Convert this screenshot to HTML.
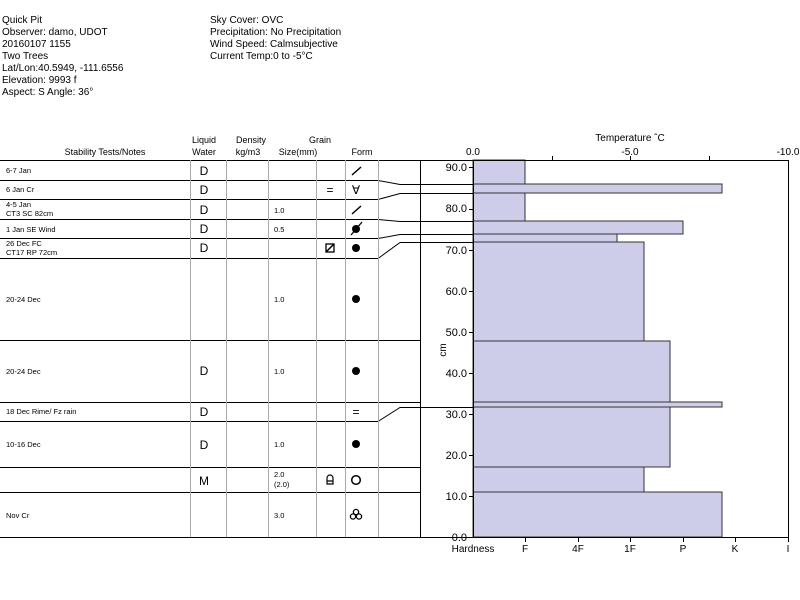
<!DOCTYPE html><html><head><style>body{margin:0;background:#fff}svg{display:block}text{font-family:"Liberation Sans",sans-serif;fill:#000}</style></head><body>
<svg width="800" height="600" xmlns="http://www.w3.org/2000/svg">
<g font-size="10">
<text x="2" y="23">Quick Pit</text><text x="2" y="35">Observer: damo, UDOT</text><text x="2" y="47">20160107 1155</text><text x="2" y="59">Two Trees</text><text x="2" y="71">Lat/Lon:40.5949, -111.6556</text><text x="2" y="83">Elevation: 9993 f</text><text x="2" y="95">Aspect: S Angle: 36°</text>
<text x="210" y="23">Sky Cover: OVC</text><text x="210" y="35">Precipitation: No Precipitation</text><text x="210" y="47">Wind Speed: Calmsubjective</text><text x="210" y="59">Current Temp:0 to -5°C</text>
</g>
<g font-size="9" text-anchor="middle">
<text x="105" y="155">Stability Tests/Notes</text>
<text x="204" y="143">Liquid</text><text x="204" y="155">Water</text>
<text x="251" y="143">Density</text><text x="248" y="155">kg/m3</text>
<text x="320" y="143">Grain</text><text x="298" y="155">Size(mm)</text>
<text x="362" y="155">Form</text>
<text x="630" y="141" font-size="10">Temperature ˆC</text>
<text x="473" y="155" font-size="10">0.0</text><text x="630" y="155" font-size="10">-5.0</text><text x="788" y="155" font-size="10">-10.0</text>
</g>
<g fill="#cdcdea" stroke="#333" stroke-width="1">
<rect x="473" y="160" width="52" height="24"/>
<rect x="473" y="184" width="249" height="9"/>
<rect x="473" y="193" width="52" height="28"/>
<rect x="473" y="221" width="210" height="13"/>
<rect x="473" y="234" width="144" height="8"/>
<rect x="473" y="242" width="171" height="99"/>
<rect x="473" y="341" width="197" height="61"/>
<rect x="473" y="402" width="249" height="5"/>
<rect x="473" y="407" width="197" height="60"/>
<rect x="473" y="467" width="171" height="25"/>
<rect x="473" y="492" width="249" height="45"/>
</g>
<g stroke="#000" stroke-width="1" fill="none">
<path d="M0 160.5H788M0 537.5H788M473.5 160V537M788.5 160V537M420.5 160V537"/>
<path d="M0 180.5H378L400 184.5H473M0 199.5H378L400 193.5H473M0 219.5H378L400 221.5H473M0 238.5H378L400 234.5H473M0 258.5H378L400 242.5H473M0 340.5H420M0 402.5H420M0 421.5H378L400 407.5H473M0 467.5H420M0 492.5H420"/>
<path d="M469 167.5H473M469 209.5H473M469 250.5H473M469 291.5H473M469 332.5H473M469 373.5H473M469 414.5H473M469 455.5H473M469 496.5H473M469 537.5H473" />
<path d="M525.5 537V542M578.5 537V542M630.5 537V542M683.5 537V542M735.5 537V542M788.5 537V542M552.5 160V156M630.5 160V156M709.5 160V156"/>
</g>
<g stroke="#aaa" stroke-width="1"><path d="M190.5 160V537M226.5 160V537M268.5 160V537M316.5 160V537M345.5 160V537M378.5 160V537"/></g>
<g font-size="11" text-anchor="end">
<text x="467" y="171">90.0</text><text x="467" y="212">80.0</text><text x="467" y="254">70.0</text><text x="467" y="295">60.0</text><text x="467" y="336">50.0</text><text x="467" y="377">40.0</text><text x="467" y="418">30.0</text><text x="467" y="459">20.0</text><text x="467" y="500">10.0</text><text x="467" y="541">0.0</text>
</g>
<text x="446" y="350" font-size="10" transform="rotate(-90 446 350)" text-anchor="middle">cm</text>
<g font-size="10" text-anchor="middle">
<text x="473" y="552">Hardness</text><text x="525" y="552">F</text><text x="578" y="552">4F</text><text x="630" y="552">1F</text><text x="683" y="552">P</text><text x="735" y="552">K</text><text x="788" y="552">I</text>
</g>
<g font-size="7.5">
<text x="6" y="173">6-7 Jan</text><text x="6" y="192">6 Jan Cr</text><text x="6" y="207">4-5 Jan</text><text x="6" y="216">CT3 SC 82cm</text><text x="6" y="232">1 Jan SE Wind</text><text x="6" y="246">26 Dec FC</text><text x="6" y="255">CT17 RP 72cm</text><text x="6" y="302">20-24 Dec</text><text x="6" y="374">20-24 Dec</text><text x="6" y="414">18 Dec Rime/ Fz rain</text><text x="6" y="447">10-16 Dec</text><text x="6" y="518">Nov Cr</text>
<text x="274" y="213">1.0</text><text x="274" y="232">0.5</text><text x="274" y="302">1.0</text><text x="274" y="374">1.0</text><text x="274" y="447">1.0</text><text x="274" y="477">2.0</text><text x="274" y="487">(2.0)</text><text x="274" y="518">3.0</text>
</g>
<g font-size="12" text-anchor="middle">
<text x="204" y="175">D</text><text x="204" y="194">D</text><text x="204" y="214">D</text><text x="204" y="233">D</text><text x="204" y="252">D</text><text x="204" y="375">D</text><text x="204" y="416">D</text><text x="204" y="449">D</text><text x="204" y="485">M</text>
<text x="330" y="194">=</text><text x="356" y="194">∀</text><text x="356" y="416">=</text>
</g>
<g stroke="#000" stroke-width="1.5" fill="none">
<path d="M352 175L361 167M352 214L361 206"/>
<rect x="326" y="244" width="8" height="8" stroke-width="1.3"/><path d="M326 252L334 244"/>
<circle cx="356" cy="480" r="4.3"/>
<path d="M327 484V478A3 3 0 0 1 333 478V484ZM327 481H333" stroke-width="1.2"/>
<circle cx="356" cy="512" r="2.6" stroke-width="1.3"/><circle cx="353" cy="516.5" r="2.6" stroke-width="1.3"/><circle cx="359" cy="516.5" r="2.6" stroke-width="1.3"/>
</g>
<g fill="#000">
<circle cx="356" cy="229" r="4"/><path d="M351 235L362 222" stroke="#000" stroke-width="1.3"/>
<circle cx="356" cy="248" r="4"/><circle cx="356" cy="299" r="4"/><circle cx="356" cy="371" r="4"/><circle cx="356" cy="444" r="4"/>
</g>
</svg></body></html>
